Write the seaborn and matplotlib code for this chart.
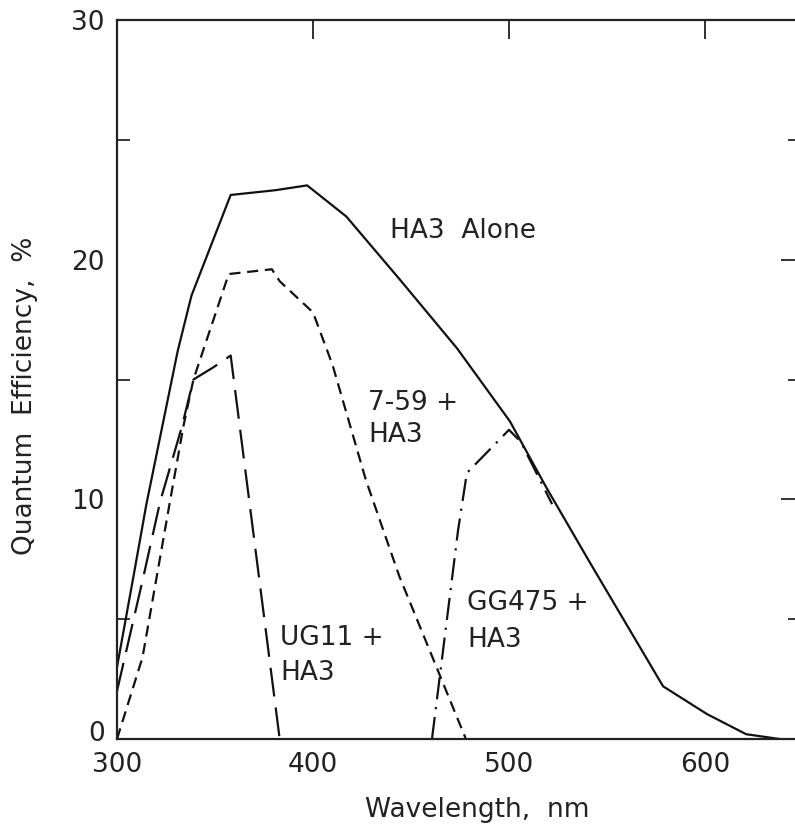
import numpy as np
import pandas as pd
import matplotlib
matplotlib.use("Agg")
import matplotlib.pyplot as plt
import matplotlib.transforms as mtransforms
import seaborn as sns
from matplotlib.ticker import MultipleLocator, FixedLocator

# values (wavelength nm, quantum efficiency %)
ha3_x = [300, 308, 315, 331, 338, 358, 381, 397, 417, 444, 473.5, 500.5, 519, 541, 578.6, 601, 621, 638]
ha3_y = [3.0, 6.6, 9.8, 16.2, 18.5, 22.7, 22.9, 23.1, 21.8, 19.2, 16.3, 13.25, 10.5, 7.4, 2.2, 1.04, 0.2, 0.0]

f759_x = [300, 313, 327, 334, 339, 357, 379, 383, 400, 410, 427, 444, 478]
f759_y = [0.0, 3.4, 9.9, 13.1, 15.0, 19.4, 19.6, 19.1, 17.8, 15.6, 10.8, 6.8, 0.0]

ug11_x = [300, 313, 322, 333, 339, 349, 358, 383]
ug11_y = [2.0, 6.6, 9.9, 13.0, 15.0, 15.5, 16.0, 0.0]

gg475_x = [460.7, 474, 478.5, 500, 506, 522]
gg475_y = [0.0, 8.7, 11.1, 12.9, 12.4, 9.8]

names = ["HA3 Alone", "7-59 + HA3", "UG11 + HA3", "GG475 + HA3"]

df = pd.concat([
    pd.DataFrame({"wl": ha3_x, "qe": ha3_y, "filter": names[0]}),
    pd.DataFrame({"wl": f759_x, "qe": f759_y, "filter": names[1]}),
    pd.DataFrame({"wl": ug11_x, "qe": ug11_y, "filter": names[2]}),
    pd.DataFrame({"wl": gg475_x, "qe": gg475_y, "filter": names[3]}),
], ignore_index=True)

sns.set_style("white")
plt.rcParams['font.family'] = ['DejaVu Sans']

fig = plt.figure(figsize=(7.95, 8.33), dpi=100)
# right spine falls just outside the image, as in the scan
ax = fig.add_axes([117/795, (833-739)/833, 683/795, 719/833])

dash_map = {names[0]: "", names[1]: (5, 3), names[2]: (13, 5), names[3]: (10, 3.5, 1, 3.5)}
sns.lineplot(data=df, x="wl", y="qe", style="filter", dashes=dash_map,
             color="#111111", linewidth=1.6, sort=False, estimator=None,
             legend=False, ax=ax)

ax.set_xlim(300, 300 + 683/1.96)
ax.set_ylim(0, 30)

ax.xaxis.set_major_locator(FixedLocator([300, 400, 500, 600]))
ax.yaxis.set_major_locator(FixedLocator([0, 10, 20, 30]))
ax.yaxis.set_minor_locator(MultipleLocator(5))
ax.tick_params(axis="both", which="major", direction="in", length=14, width=1.3,
               top=True, right=True, labelsize=19, colors="#222222", pad=9)
ax.tick_params(axis="y", which="minor", direction="in", length=9, width=1.3,
               left=True, right=True)

# nudge the "0" label up a little so it sits above "300"
zero = ax.yaxis.get_major_ticks()[0].label1
zero.set_transform(zero.get_transform() + mtransforms.ScaledTranslation(0, 6/72, fig.dpi_scale_trans))

for s in ax.spines.values():
    s.set_linewidth(1.6)
    s.set_color("#222222")

ax.set_xlabel("Wavelength,  nm", fontsize=19, color="#222222")
ax.set_ylabel("Quantum  Efficiency,  %", fontsize=19, color="#222222")
ax.xaxis.set_label_coords(0.528, -0.080)
ax.yaxis.set_label_coords(-0.115, 0.477)

lab = dict(fontsize=19, color="#222222", ha="left", va="center")
ax.text(439.3, 21.2, "HA3  Alone", **lab)
ax.text(428, 14.0, "7-59 +", **lab)
ax.text(428, 12.7, "HA3", **lab)
ax.text(383.2, 4.2, "UG11 +", **lab)
ax.text(383.2, 2.75, "HA3", **lab)
ax.text(478.6, 5.67, "GG475 +", **lab)
ax.text(478.6, 4.13, "HA3", **lab)

fig.savefig("out.png", dpi=100)
